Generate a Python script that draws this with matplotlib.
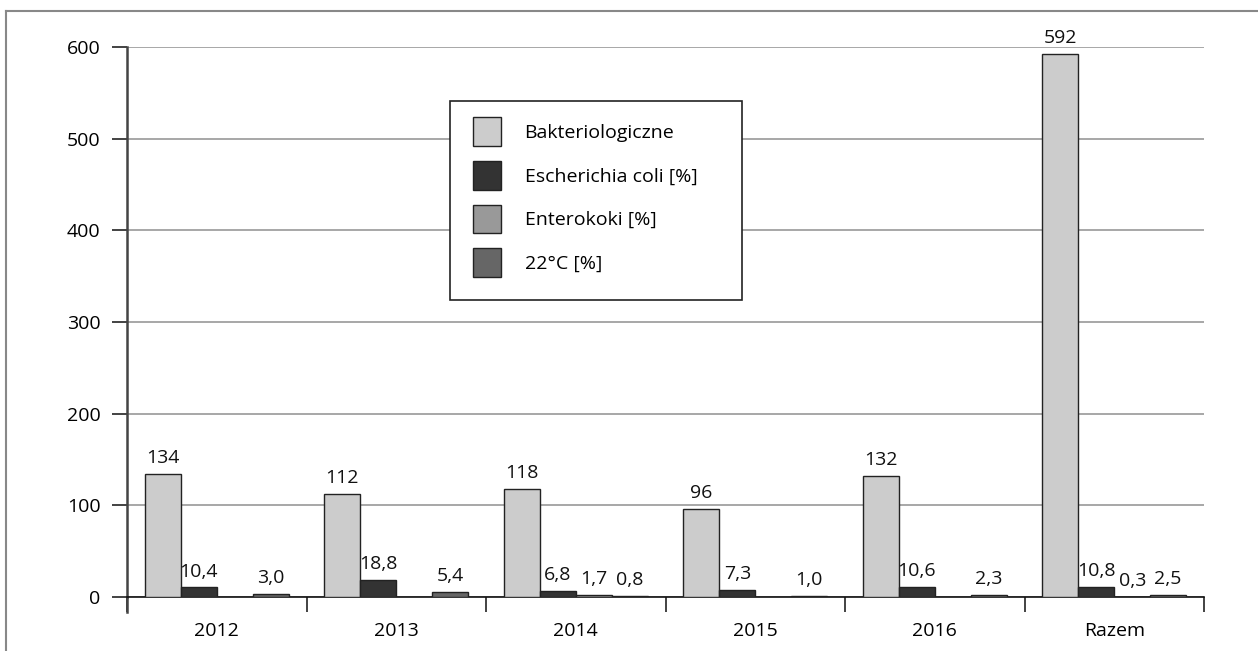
import matplotlib.pyplot as plt
from matplotlib.lines import Line2D
from matplotlib.patches import Rectangle

plt.rcParams['font.family'] = ['Open Sans', 'DejaVu Sans']

categories = ['2012', '2013', '2014', '2015', '2016', 'Razem']
bakteriologiczne = [134, 112, 118, 96, 132, 592]
ecoli = [10.4, 18.8, 6.8, 7.3, 10.6, 10.8]
enterokoki = [None, None, 1.7, None, None, 0.3]
temp22 = [3.0, 5.4, 0.8, 1.0, 2.3, 2.5]

series = [
    ('Bakteriologiczne', bakteriologiczne, '#cccccc', '{:.0f}'),
    ('Escherichia coli [%]', ecoli, '#333333', '{:.1f}'),
    ('Enterokoki [%]', enterokoki, '#999999', '{:.1f}'),
    ('22°C [%]', temp22, '#666666', '{:.1f}'),
]

W, H = 1258, 651
fig = plt.figure(figsize=(W / 100, H / 100), dpi=100)
ax = fig.add_axes([127 / W, 1 - 597 / H, (1204 - 127) / W, (597 - 47) / H])

bw = 0.2
handles = []
for k, (name, vals, color, fmt) in enumerate(series):
    xs = [i + 0.1 + bw * k + bw / 2 for i, v in enumerate(vals) if v is not None]
    ys = [v for v in vals if v is not None]
    ax.bar(xs, ys, width=bw, color=color, edgecolor='#222222',
           linewidth=1, zorder=3)
    for x, y in zip(xs, ys):
        ax.annotate(fmt.format(y).replace('.', ','), (x, y), xytext=(0, 5),
                    textcoords='offset points', ha='center', va='bottom',
                    fontsize=14, color='#111111', zorder=4)
    handles.append(Rectangle((0, 0), 1, 1, facecolor=color,
                             edgecolor='#222222', linewidth=1))

ax.set_xlim(0, 6)
ax.set_ylim(0, 600)
ax.set_yticks(range(0, 601, 100))
ax.yaxis.grid(True, color='#a0a0a0', linewidth=1.3)
ax.set_axisbelow(True)

ax.set_xticks(range(0, 7))
ax.set_xticklabels([])
ax.set_xticks([i + 0.5 for i in range(6)], minor=True)
ax.set_xticklabels(categories, minor=True)
ax.tick_params(axis='x', which='major', direction='out', length=11,
               width=1.2, color='#222222')
ax.tick_params(axis='x', which='minor', length=0, pad=18, labelsize=14)
ax.tick_params(axis='y', direction='out', length=11, width=1.2,
               color='#222222', pad=8, labelsize=14)

for s in ['top', 'right']:
    ax.spines[s].set_visible(False)
ax.spines['left'].set_color('#444444')
ax.spines['left'].set_linewidth(1.8)
ax.spines['bottom'].set_color('#111111')
ax.spines['bottom'].set_linewidth(1.2)
ax.plot([0, 0], [0, -16], color='#444444', lw=1.8, clip_on=False)

# legend
leg = fig.legend(handles, [s[0] for s in series], loc='upper left',
                 bbox_to_anchor=(473 / W, 1 - 117 / H), frameon=False,
                 fontsize=14, handlelength=1.45, handleheight=1.9,
                 handletextpad=1.2, labelspacing=0.77, borderpad=0,
                 borderaxespad=0)
fig.patches.append(Rectangle((450 / W, 1 - 300 / H), (742 - 450) / W,
                             (300 - 101) / H, transform=fig.transFigure,
                             facecolor='white', edgecolor='#222222',
                             linewidth=1.2, zorder=5))
leg.set_zorder(6)

# outer frame (top and left only)
fig.lines.append(Line2D([6 / W, 1], [1 - 11 / H, 1 - 11 / H],
                        transform=fig.transFigure, color='#888888', lw=1.5))
fig.lines.append(Line2D([6 / W, 6 / W], [0, 1 - 11 / H],
                        transform=fig.transFigure, color='#888888', lw=1.5))

fig.savefig('out.png', dpi=100)
